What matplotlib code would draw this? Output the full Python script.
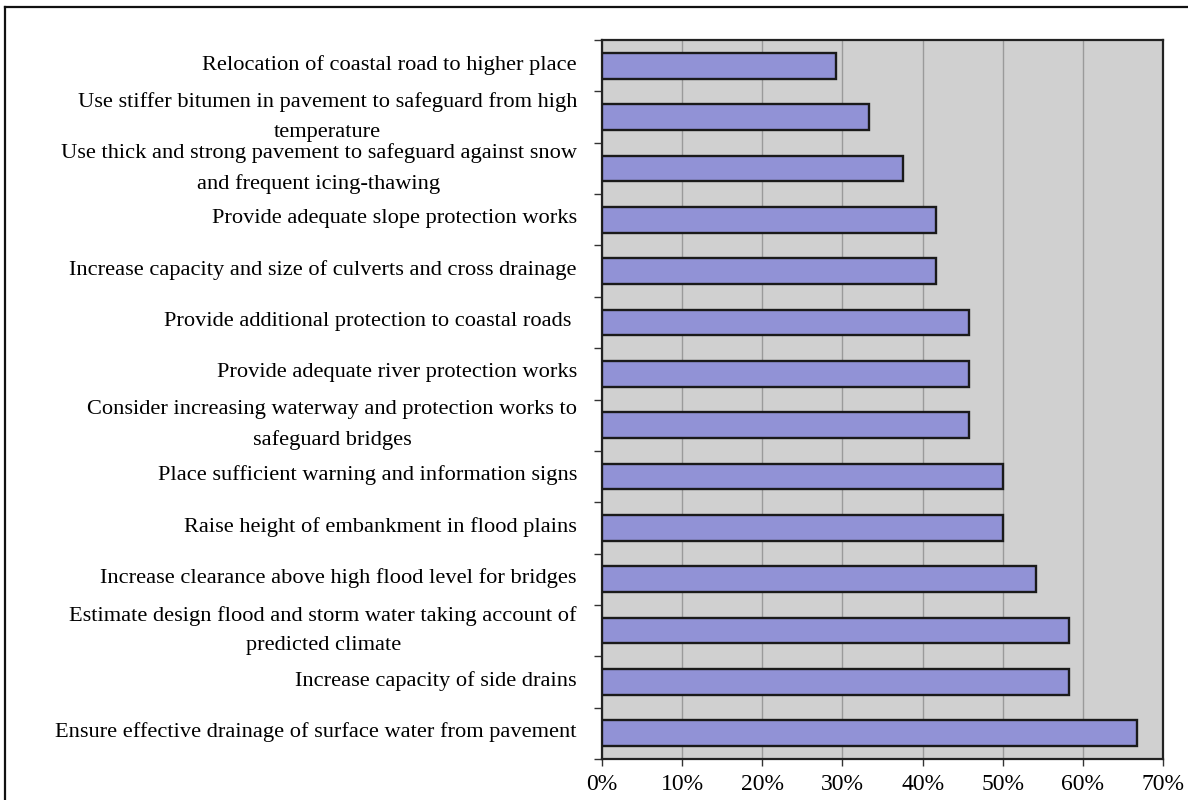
import matplotlib
matplotlib.use("Agg")
import matplotlib.pyplot as plt
from matplotlib.lines import Line2D
from matplotlib.transforms import ScaledTranslation, blended_transform_factory
from matplotlib.ticker import FixedLocator, PercentFormatter, NullFormatter

measures = [
    "Relocation of coastal road to higher place",
    "Use stiffer bitumen in pavement to safeguard from high\ntemperature",
    "Use thick and strong pavement to safeguard against snow\nand frequent icing-thawing",
    "Provide adequate slope protection works",
    "Increase capacity and size of culverts and cross drainage",
    "Provide additional protection to coastal roads ",
    "Provide adequate river protection works",
    "Consider increasing waterway and protection works to\nsafeguard bridges",
    "Place sufficient warning and information signs",
    "Raise height of embankment in flood plains",
    "Increase clearance above high flood level for bridges",
    "Estimate design flood and storm water taking account of\npredicted climate",
    "Increase capacity of side drains",
    "Ensure effective drainage of surface water from pavement",
]
share_pct = [29.2, 33.3, 37.5, 41.7, 41.7, 45.8, 45.8, 45.8, 50.0, 50.0, 54.2, 58.3, 58.3, 66.7]
x_ticks = [0, 10, 20, 30, 40, 50, 60, 70]

plt.rcParams["font.family"] = ["Liberation Serif", "DejaVu Serif"]

fig = plt.figure(figsize=(11.88, 8.0), dpi=100)
ax = fig.add_axes([0.5067, 0.05125, 0.4723, 0.89875])

ypos = list(range(len(measures)))
ax.set_facecolor("#d0d0d0")
ax.barh(ypos, share_pct, height=0.5, color="#9192d6", edgecolor="#1a1a1a",
        linewidth=1.7, zorder=3)

ax.set_xlim(0, 70)
ax.set_ylim(len(measures) - 0.5, -0.5)
ax.xaxis.set_major_locator(FixedLocator(x_ticks))
ax.xaxis.set_major_formatter(PercentFormatter(decimals=0))
ax.grid(axis="x", color="#9a9a9a", linewidth=1.0, zorder=1)
ax.set_axisbelow(True)

# category labels, right-aligned left of the axis, lines centred within each label
ax.yaxis.set_major_locator(FixedLocator([i - 0.5 for i in range(len(measures) + 1)]))
ax.yaxis.set_major_formatter(NullFormatter())
label_base = blended_transform_factory(ax.transAxes, ax.transData)
for y, text in zip(ypos, measures):
    dy = 0 if "\n" in text else 1
    tr = label_base + ScaledTranslation(-25 / 100, dy / 100, fig.dpi_scale_trans)
    ax.text(0, y, text, transform=tr, ha="right", va="center", multialignment="center",
            fontsize=16.1, linespacing=1.75, clip_on=False)

ax.tick_params(axis="y", which="major", length=6, width=1.0, direction="out", color="#333333")
ax.tick_params(axis="x", which="major", length=5, width=1.0, direction="out",
               labelsize=17, pad=6, color="#333333")

for s in ax.spines.values():
    s.set_color("#222222")
    s.set_linewidth(1.6)

# outer frame around the figure
fig.add_artist(Line2D([5 / 1188, 1.0], [1 - 7 / 800, 1 - 7 / 800], transform=fig.transFigure,
                      color="#111111", linewidth=1.6))
fig.add_artist(Line2D([5 / 1188, 5 / 1188], [0.0, 1 - 7 / 800], transform=fig.transFigure,
                      color="#111111", linewidth=1.6))

fig.savefig("out.png", dpi=100)
